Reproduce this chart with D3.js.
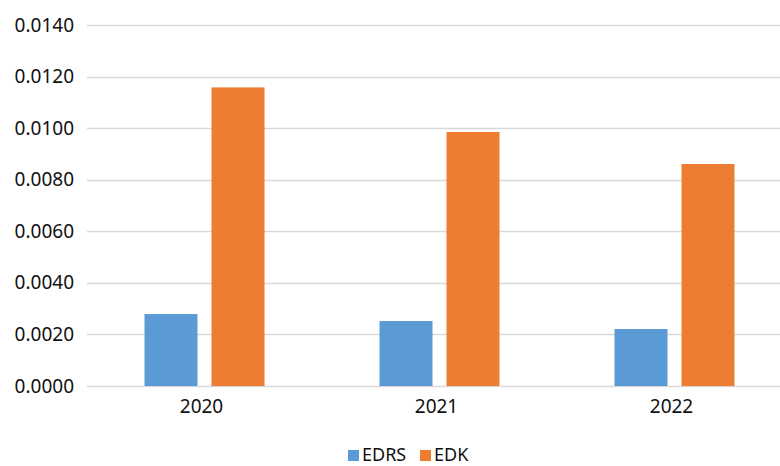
<!DOCTYPE html>
<html>
<head>
<meta charset="utf-8">
<script src="https://cdn.jsdelivr.net/npm/d3@7"></script>
<style>
  body { margin: 0; background: #fff; }
  svg text { font-family: "Noto Sans", "Open Sans", sans-serif; fill: #111; }
</style>
</head>
<body>
<svg id="chart" width="780" height="466"></svg>
<script>
// chart data
const years = ["2020", "2021", "2022"];
const seriesNames = ["EDRS", "EDK"];
const edrs = [0.00279, 0.00252, 0.00221];
const edk = [0.01158, 0.00985, 0.00861];
const yTicks = [0, 0.002, 0.004, 0.006, 0.008, 0.010, 0.012, 0.014];
const colors = ["#5B9BD5", "#ED7D31"];

const width = 780;
const height = 466;
const margin = {top: 25, right: -12, bottom: 80, left: 87};

const svg = d3.select("#chart");

// scales
const x = d3.scaleBand()
  .domain(years)
  .range([margin.left, width - margin.right])
  .paddingInner(0)
  .paddingOuter(0);

const xInner = d3.scaleBand()
  .domain(seriesNames)
  .range([57.5, 177.5])
  .paddingInner(0.209)
  .paddingOuter(0);

const y = d3.scaleLinear()
  .domain([0, 0.014])
  .range([height - margin.bottom, margin.top]);

// gridlines
svg.append("g")
  .selectAll("line")
  .data(yTicks)
  .enter()
  .append("line")
  .attr("x1", margin.left)
  .attr("x2", width)
  .attr("y1", d => Math.round(y(d)) + 0.5)
  .attr("y2", d => Math.round(y(d)) + 0.5)
  .attr("stroke", "#d9d9d9")
  .attr("stroke-width", 1.5);

// y axis labels
const yAxis = d3.axisLeft(y)
  .tickValues(yTicks)
  .tickFormat(d3.format(".4f"))
  .tickSize(0)
  .tickPadding(13);

svg.append("g")
  .attr("transform", `translate(${margin.left}, 0)`)
  .call(yAxis)
  .call(g => g.select(".domain").remove())
  .selectAll("text")
  .style("font-size", "19px")
  .attr("fill", "#111");

// bars
const rows = years.map((yr, i) => ({year: yr, values: [edrs[i], edk[i]]}));

const groups = svg.append("g")
  .selectAll("g")
  .data(rows)
  .enter()
  .append("g")
  .attr("transform", d => `translate(${x(d.year)}, 0)`);

groups.selectAll("rect")
  .data(d => d.values.map((v, j) => ({name: seriesNames[j], value: v, color: colors[j]})))
  .enter()
  .append("rect")
  .attr("x", d => xInner(d.name))
  .attr("width", xInner.bandwidth())
  .attr("y", d => y(d.value))
  .attr("height", d => y(0) - y(d.value))
  .attr("fill", d => d.color);

// x axis labels
const xAxis = d3.axisBottom(x).tickSize(0).tickPadding(14);
svg.append("g")
  .attr("transform", `translate(-3, ${y(0)})`)
  .call(xAxis)
  .call(g => g.select(".domain").remove())
  .selectAll("text")
  .style("font-size", "19px")
  .attr("fill", "#111");

// legend
const legendItems = [
  {name: "EDRS", color: colors[0], x: 348},
  {name: "EDK", color: colors[1], x: 420}
];
const legend = svg.append("g");
legend.selectAll("rect")
  .data(legendItems)
  .enter()
  .append("rect")
  .attr("x", d => d.x)
  .attr("y", 450)
  .attr("width", 11)
  .attr("height", 11)
  .attr("fill", d => d.color);

legend.selectAll("text")
  .data(legendItems)
  .enter()
  .append("text")
  .attr("x", d => d.x + 14)
  .attr("y", 461)
  .style("font-size", "18px")
  .text(d => d.name);
</script>
</body>
</html>
